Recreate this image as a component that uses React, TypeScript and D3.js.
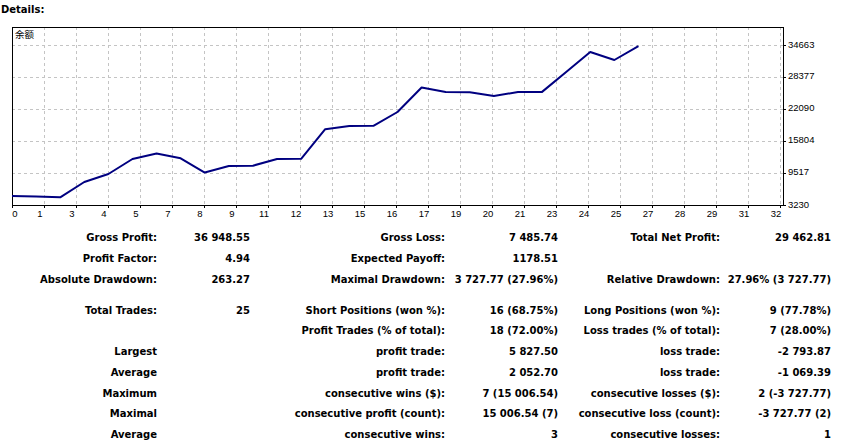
import * as d3 from 'd3'

// balance after each trade (index 0 = initial deposit)
const balance = [
  5000, 4900, 4736.73, 7748, 9320, 12267, 13332.3, 12398.4, 9604.5, 10891,
  10950, 12267, 12300, 18127.5, 18750, 18780, 21500, 26300, 25429, 25400,
  24643, 25429, 25450, 29358, 33287, 31715, 34462.81,
]
const yTicks = [3230, 9517, 15804, 22090, 28377, 34663]
const xTickLabels = [
  '0', '1', '3', '4', '5', '7', '8', '9', '11', '12', '13', '15', '16',
  '17', '19', '20', '21', '23', '24', '25', '27', '28', '29', '31', '32',
]
const xMax = 32
const seriesName = '余额'

const summaryRows = [
  ['Gross Profit:', '36 948.55', 'Gross Loss:', '7 485.74', 'Total Net Profit:', '29 462.81'],
  ['Profit Factor:', '4.94', 'Expected Payoff:', '1178.51', '', ''],
  ['Absolute Drawdown:', '263.27', 'Maximal Drawdown:', '3 727.77 (27.96%)', 'Relative Drawdown:', '27.96% (3 727.77)'],
]
const tradeRows = [
  ['Total Trades:', '25', 'Short Positions (won %):', '16 (68.75%)', 'Long Positions (won %):', '9 (77.78%)'],
  ['', '', 'Profit Trades (% of total):', '18 (72.00%)', 'Loss trades (% of total):', '7 (28.00%)'],
  ['Largest', '', 'profit trade:', '5 827.50', 'loss trade:', '-2 793.87'],
  ['Average', '', 'profit trade:', '2 052.70', 'loss trade:', '-1 069.39'],
  ['Maximum', '', 'consecutive wins ($):', '7 (15 006.54)', 'consecutive losses ($):', '2 (-3 727.77)'],
  ['Maximal', '', 'consecutive profit (count):', '15 006.54 (7)', 'consecutive loss (count):', '-3 727.77 (2)'],
  ['Average', '', 'consecutive wins:', '3', 'consecutive losses:', '1'],
]

const W = 841
const H = 445
const plot = { left: 12, right: 783, top: 27, bottom: 205 }
const colRight = [157, 250, 445, 558, 720, 831]
const BOLD = { fontFamily: '"DejaVu Sans", sans-serif', fontWeight: 700, fontSize: 10 }

export default function App() {
  const x = d3.scaleLinear().domain([0, xMax]).range([plot.left, plot.right])
  const y = d3.scaleLinear().domain([yTicks[0], yTicks[yTicks.length - 1]]).range([plot.bottom, 45])

  const gridStep = (xMax * 32) / (plot.right - plot.left)
  const line = d3.line<number>().x((_, i) => x(i)).y((d) => y(d))

  const rowY1 = [241, 262, 283]
  const rowY2 = [314, 334, 355, 376, 397, 417, 438]

  const renderRow = (row: string[], yy: number, key: string) =>
    row.map((t, j) =>
      t ? (
        <text key={key + j} x={colRight[j]} y={yy} textAnchor="end" style={BOLD} fill="#000">
          {t}
        </text>
      ) : null
    )

  return (
    <svg width={W} height={H} style={{ position: 'absolute', left: 0, top: 0, background: '#fff' }}>
      <text x={1} y={13} style={BOLD} fill="#000">Details:</text>

      <rect x={plot.left} y={plot.top} width={plot.right - plot.left} height={plot.bottom - plot.top} fill="#fff" />

      {/* grid */}
      {yTicks.slice(1).map((v) => (
        <line key={'h' + v} x1={plot.left} x2={plot.right} y1={y(v) + 0.5} y2={y(v) + 0.5}
          stroke="#c4c4c4" strokeDasharray="3,3" />
      ))}
      {xTickLabels.map((_, k) => {
        const gx = Math.round(x(k * gridStep)) + 0.5
        return (
          <g key={'v' + k}>
            {k > 0 && (
              <line x1={gx} x2={gx} y1={plot.top} y2={plot.bottom} stroke="#c4c4c4" strokeDasharray="3,3" />
            )}
            <line x1={gx} x2={gx} y1={plot.bottom} y2={plot.bottom + 3} stroke="#000" />
          </g>
        )
      })}

      {/* frame */}
      <rect x={plot.left + 0.5} y={plot.top + 0.5} width={plot.right - plot.left} height={plot.bottom - plot.top}
        fill="none" stroke="#000" />

      <text x={15} y={38} fill="#000" style={{ fontFamily: '"Noto Sans CJK SC", sans-serif', fontSize: 9.5 }}>
        {seriesName}
      </text>

      <path d={line(balance) ?? ''} fill="none" stroke="#000080" strokeWidth={2} strokeLinejoin="round" />

      {/* y axis labels */}
      {yTicks.map((v) => (
        <g key={'yl' + v}>
          <line x1={plot.right + 1} x2={plot.right + 3} y1={y(v) + 0.5} y2={y(v) + 0.5} stroke="#000" />
          <text x={plot.right + 5} y={y(v) + 2.5} fill="#000"
            style={{ fontFamily: '"Liberation Sans", sans-serif', fontSize: 9.5 }}>
            {v}
          </text>
        </g>
      ))}

      {/* x axis labels */}
      {xTickLabels.map((t, k) => {
        const gx = x(k * gridStep)
        return (
          <text key={'xl' + k} x={k === 0 ? gx + 3 : gx - 4} y={217} textAnchor="middle" fill="#000"
            style={{ fontFamily: '"Liberation Sans", sans-serif', fontSize: 9.5 }}>
            {t}
          </text>
        )
      })}

      {summaryRows.map((r, i) => renderRow(r, rowY1[i], 's' + i))}
      {tradeRows.map((r, i) => renderRow(r, rowY2[i], 't' + i))}
    </svg>
  )
}
